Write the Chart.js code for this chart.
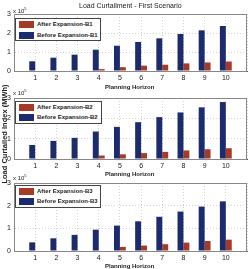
<!DOCTYPE html>
<html><head><meta charset="utf-8">
<script src="https://cdn.jsdelivr.net/npm/chart.js@4/dist/chart.umd.min.js"></script>
<style>
html,body{margin:0;padding:0;background:#fff;width:251px;height:269px;overflow:hidden;font-family:"Liberation Sans",Arial,sans-serif;color:#222}
canvas{position:absolute;left:0}
.t{position:absolute;white-space:nowrap;line-height:1}
.leg{position:absolute;border:1px solid #444;background:#fff;box-sizing:border-box}
.sw{position:absolute;left:3px;width:15px;height:7px}
.lt{position:absolute;left:21px;font-size:6px;font-weight:bold;line-height:7px}
</style></head><body>
<canvas id="c1" width="251" height="87" style="top:0px"></canvas>
<canvas id="c2" width="251" height="90" style="top:85px"></canvas>
<canvas id="c3" width="251" height="97" style="top:170px"></canvas>

<div class="t" style="left:79px;top:2px;font-size:7px;">Load Curtailment - First Scenario</div>
<div class="t" style="left:13px;top:7px;font-size:6px;">x 10<sup style="font-size:4px;vertical-align:3px">5</sup></div>
<div class="t" style="left:13px;top:89px;font-size:6px;">x 10<sup style="font-size:4px;vertical-align:3px">5</sup></div>
<div class="t" style="left:13px;top:174px;font-size:6px;">x 10<sup style="font-size:4px;vertical-align:3px">5</sup></div>
<div class="t" style="left:105px;top:84px;font-size:6px;font-weight:bold;">Planning Horizon</div>
<div class="t" style="left:105px;top:171px;font-size:6px;font-weight:bold;">Planning Horizon</div>
<div class="t" style="left:105px;top:263px;font-size:6px;font-weight:bold;">Planning Horizon</div>
<div class="t" style="left:5px;top:134px;font-size:7.5px;font-weight:bold;transform:translate(-50%,-50%) rotate(-90deg);">Load Curtailed Index (MWh)</div>

<div class="leg" style="left:15px;top:18px;width:86px;height:23px;">
 <div class="sw" style="top:2px;background:#a63a27"></div><div class="lt" style="top:2px">After Expansion-B1</div>
 <div class="sw" style="top:13px;background:#1c2a6e"></div><div class="lt" style="top:13px">Before Expansion-B1</div>
</div>
<div class="leg" style="left:15px;top:101px;width:87px;height:23px;">
 <div class="sw" style="top:2px;background:#a63a27"></div><div class="lt" style="top:2px">After Expansion-B2</div>
 <div class="sw" style="top:12px;background:#1c2a6e"></div><div class="lt" style="top:12px">Before Expansion-B2</div>
</div>
<div class="leg" style="left:15px;top:185px;width:86px;height:23px;">
 <div class="sw" style="top:2px;background:#a63a27"></div><div class="lt" style="top:2px">After Expansion-B3</div>
 <div class="sw" style="top:12px;background:#1c2a6e"></div><div class="lt" style="top:12px">Before Expansion-B3</div>
</div>

<script>
const categories = [1, 2, 3, 4, 5, 6, 7, 8, 9, 10];
const yTicks = [0, 1, 2, 3];
const beforeB1 = [51000, 70000, 86000, 112000, 133000, 153000, 172000, 195000, 214000, 237000];
const afterB1  = [0, 0, 0, 10000, 20000, 28000, 33000, 40000, 45000, 50000];
const beforeB2 = [69000, 89000, 104000, 135000, 158000, 181000, 206000, 229000, 254000, 280000];
const afterB2  = [0, 0, 0, 17000, 23000, 29000, 35000, 42000, 48000, 53000];
const beforeB3 = [38000, 56000, 71000, 94000, 112000, 131000, 151000, 174000, 196000, 219000];
const afterB3  = [2000, 2000, 2000, 2000, 18000, 24000, 30000, 37000, 44000, 50000];

const NAVY = '#1c2a6e', RED = '#a63a27';
const FONT = {family: '"Liberation Sans", Arial, sans-serif', size: 7};

const boxPlugin = {
  id: 'box',
  afterDraw(chart) {
    const a = chart.chartArea, ctx = chart.ctx;
    ctx.save();
    ctx.strokeStyle = '#888';
    ctx.lineWidth = 1;
    ctx.strokeRect(Math.round(a.left) + 0.5, Math.round(a.top) + 0.5, Math.round(a.right - a.left) - 1, Math.round(a.bottom - a.top));
    ctx.restore();
  }
};

function makeChart(id, before, after, topPad) {
  const toPts = arr => categories.map((c, i) => ({x: c, y: arr[i]}));
  new Chart(document.getElementById(id), {
    type: 'bar',
    data: {
      datasets: [
        {label: 'Before', data: toPts(before), backgroundColor: NAVY, categoryPercentage: 0.56, barPercentage: 1.0},
        {label: 'After', data: toPts(after), backgroundColor: RED, categoryPercentage: 0.56, barPercentage: 1.0}
      ]
    },
    options: {
      responsive: false, animation: false, devicePixelRatio: 1,
      layout: {padding: {top: topPad, right: 4, left: 0, bottom: 0}},
      plugins: {legend: {display: false}, tooltip: {enabled: false}},
      scales: {
        x: {
          type: 'linear', min: 0, max: 11, offset: false,
          grid: {offset: false, color: '#d4d4d4', lineWidth: 1, drawTicks: false},
          border: {display: true, color: '#555', dash: [1, 2]},
          ticks: {stepSize: 1, padding: 3, color: '#1a1a1a', font: FONT, maxRotation: 0, autoSkip: false,
            callback: v => categories.includes(v) ? String(v) : ''},
          afterFit: s => { s.height = 16; }
        },
        y: {
          min: 0, max: 300000,
          grid: {color: '#d4d4d4', lineWidth: 1, drawTicks: false},
          border: {display: true, color: '#555', dash: [1, 2]},
          ticks: {stepSize: 100000, padding: 3, color: '#1a1a1a', font: FONT,
            callback: v => yTicks.includes(v / 100000) ? String(v / 100000) : ''},
          afterFit: s => { s.width = 14; }
        }
      }
    },
    plugins: [boxPlugin]
  });
}
makeChart('c1', beforeB1, afterB1, 14);
makeChart('c2', beforeB2, afterB2, 13);
makeChart('c3', beforeB3, afterB3, 13);
</script>
</body></html>
